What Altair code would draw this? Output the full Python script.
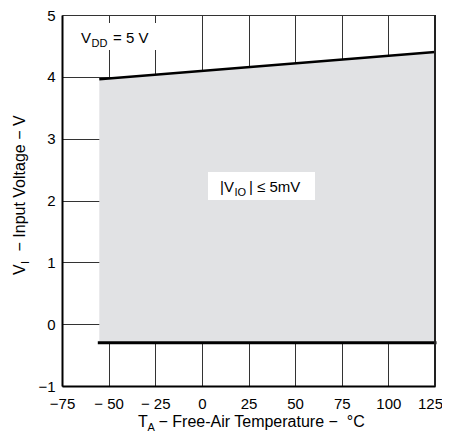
import altair as alt
import pandas as pd

# ---- data ----
temps = [-55, 125]
upper_v = [3.96, 4.40]
lower_v = [-0.30, -0.30]
x_ticks = [-75, -50, -25, 0, 25, 50, 75, 100, 125]
x_tick_labels = ["−75", "− 50", "− 25", "0", "25", "50", "75", "100", "125"]
y_ticks = [-1, 0, 1, 2, 3, 4, 5]
y_tick_labels = ["−1", "0", "1", "2", "3", "4", "5"]

W, H = 373, 371
FONT = "Liberation Sans"
FILL = "#e1e2e4"
GRID = "#333333"


def label_expr(ticks, labels):
    parts = " : ".join(f"datum.value == {t} ? '{l}'" for t, l in zip(ticks, labels))
    return parts + " : ''"


df = pd.DataFrame({"temp": temps, "upper": upper_v, "lower": lower_v})
one = pd.DataFrame({"k": [0]})

xs = alt.Scale(domain=[-75, 125], nice=False, zero=False)
ys = alt.Scale(domain=[-1, 5], nice=False, zero=False)

common_axis = dict(
    title=None, ticks=False, grid=True, gridColor=GRID, gridWidth=1, gridOpacity=1,
    domainColor="black", domainWidth=2, labelFont=FONT, labelFontSize=15,
    labelColor="black", labelFlush=False, labelOverlap=False,
)
xaxis = alt.Axis(values=x_ticks, labelExpr=label_expr(x_ticks, x_tick_labels),
                 labelPadding=10,
                 labelOffset={"condition": {"test": "datum.value == 125", "value": -5},
                              "value": 0},
                 **common_axis)
yaxis = alt.Axis(values=y_ticks, labelExpr=label_expr(y_ticks, y_tick_labels),
                 labelPadding=7, **common_axis)

area = alt.Chart(df).mark_area(color=FILL, opacity=1).encode(
    x=alt.X("temp:Q", scale=xs, axis=xaxis),
    y=alt.Y("upper:Q", scale=ys, axis=yaxis),
    y2="lower:Q",
)
up = alt.Chart(df).mark_line(color="black", strokeWidth=2.5).encode(
    x="temp:Q", y="upper:Q")
lo = alt.Chart(df).mark_line(color="black", strokeWidth=3, strokeCap="square").encode(
    x="temp:Q", y="lower:Q")

right_border = alt.Chart(one).mark_rule(color="#222222", strokeWidth=2).encode(
    x=alt.value(W), y=alt.value(0), y2=alt.value(H))


def box(x1, x2, y1, y2):
    return alt.Chart(one).mark_rect(color="white", opacity=1).encode(
        x=alt.value(x1), x2=alt.value(x2), y=alt.value(y1), y2=alt.value(y2))


def txt(s, x, y, size, angle=0):
    return alt.Chart(pd.DataFrame({"s": [s]})).mark_text(
        font=FONT, fontSize=size, align="left", baseline="alphabetic",
        angle=angle, color="black",
    ).encode(text="s:N", x=alt.value(x), y=alt.value(y))


layers = [
    area, up, lo, right_border,
    box(10, 98, 8, 35),
    txt("V", 19, 27.5, 15), txt("DD", 29.5, 31.5, 11), txt("= 5 V", 51, 27.5, 15),
    box(146, 253, 157, 185),
    txt("|V", 158, 176.5, 15), txt("IO", 172.5, 180.5, 11), txt("| ≤ 5mV", 187, 176.5, 15),
    # y title (rotated)
    txt("V", -37, 260, 16, 270), txt("I", -33, 249, 11, 270),
    txt("− Input Voltage − V", -37, 236.5, 16, 270),
    # x title
    txt("T", 76, 411.5, 16), txt("A", 85.5, 415.5, 11),
    txt("− Free-Air Temperature −\u00a0 °C", 96.5, 411.5, 16),
]

chart = alt.layer(*layers).properties(
    width=W, height=H,
    padding={"left": 54, "top": 7, "right": 7, "bottom": 47},
    autosize=alt.AutoSizeParams(type="none"),
).configure_view(stroke=None)

chart.save("out.html", embed_options={"renderer": "svg", "actions": False})
